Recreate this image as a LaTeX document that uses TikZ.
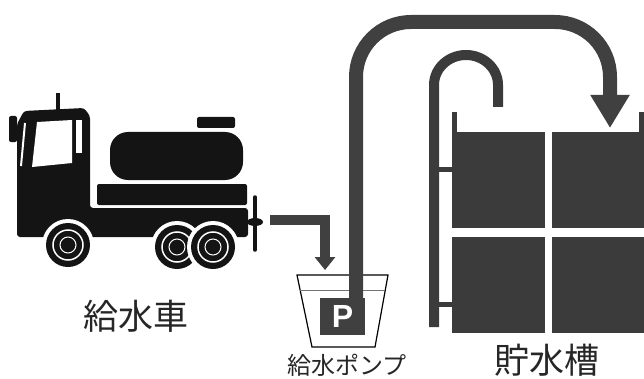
\documentclass[tikz,border=0pt]{standalone}
\usepackage{fontspec}
\newfontfamily\jpfont{Noto Sans CJK JP}
\newfontfamily\pfont{Liberation Sans}
\usetikzlibrary{arrows.meta}

\begin{document}
\begin{tikzpicture}[
    x=1pt, y=1pt,
    truck/.style={fill=black!92},
    feed/.style={draw=black!75, line width=10pt, -{Triangle[width=20pt,length=13pt]}},
    pipe/.style={draw=black!75, line width=14pt, rounded corners=55pt, -{Triangle[width=37pt,length=33pt]}},
    cell/.style={fill=black!77},
    riser/.style={draw=black!77, line width=10pt},
    caption/.style={inner sep=0pt, text=black!85}
]
\useasboundingbox (0,0) rectangle (644,378);

% truck
\fill[truck, rounded corners=3pt] (17,141) -- (17,254) -- (24,267) -- (84,270) -- (90,262) -- (90,170) -- (248,170) -- (248,141) -- cycle;
\fill[truck] (56,266) rectangle (60,285);
\fill[truck, rounded corners=2pt] (9,236) rectangle (17,262);
\fill[truck, rounded corners=2pt] (97,173) rectangle (247,194);
\fill[truck, rounded corners=18pt] (110,198) rectangle (243,246);
\fill[truck, rounded corners=2pt] (197,250) rectangle (235,261);
\fill[white] (37,256) -- (72,258) -- (72,215) -- (32,211) -- cycle;
\fill[white] (76,225) rectangle (82,258);
\draw[white, line width=2pt] (25,255) -- (21,212);
\foreach \wx/\wy in {68/133, 177/131, 213/131} {
    \fill[white] (\wx,\wy) circle (26pt);
    \fill[truck] (\wx,\wy) circle (22pt);
    \draw[white, line width=1.5pt] (\wx,\wy) circle (15pt);
    \draw[white, line width=1pt] (\wx,\wy) circle (8pt);
}
\draw[black!92, line width=3.5pt, line cap=round] (255,128) -- (255,181);
\fill[truck] (255,156) ellipse (8pt and 4pt);
\node[caption, font=\jpfont\fontsize{35}{35}\selectfont] (truckname) at (135.5,61.5) {給水車};

% pump
\draw[line width=1.2pt] (297,103) -- (312,31) -- (375,31) -- (388,103) -- cycle;
\draw[black!55, line width=1pt] (300,88) -- (385,88);
\node[fill=black!75, minimum width=45pt, minimum height=37pt, inner sep=0pt, text=white,
      font=\pfont\bfseries\fontsize{32}{32}\selectfont] (pump) at (342.5,61.5) {P};
\node[caption, font=\jpfont\fontsize{24}{24}\selectfont] (pumpname) at (347,13) {給水ポンプ};

\coordinate (valve) at (270,158);
\coordinate (inlet) at (325,108);
\draw[feed] (valve) -| (inlet);

% tank
\foreach \cx/\cy in {452/150, 552/150, 452/45, 552/45}
    \fill[cell] (\cx,\cy) rectangle ++(93,96);
\draw[black!77, line width=5pt] (454.5,246) -- (454.5,266);
\draw[black!77, line width=5pt] (641,246) -- (641,266);
\draw[riser] (434,51) -- (434,293) arc[start angle=180, end angle=0, x radius=32pt, y radius=30pt] -- (498,271);
\draw[black!77, line width=5pt] (434,208.5) -- (452,208.5);
\draw[black!77, line width=5pt] (434,73.5) -- (452,73.5);
\node[caption, font=\jpfont\fontsize{35}{35}\selectfont] (tankname) at (546.5,18) {貯水槽};

\coordinate (pipein) at (356,80);
\coordinate (outlet) at (610,250);
\draw[pipe] (pipein) |- (610,356) -- (outlet);
\end{tikzpicture}
\end{document}
